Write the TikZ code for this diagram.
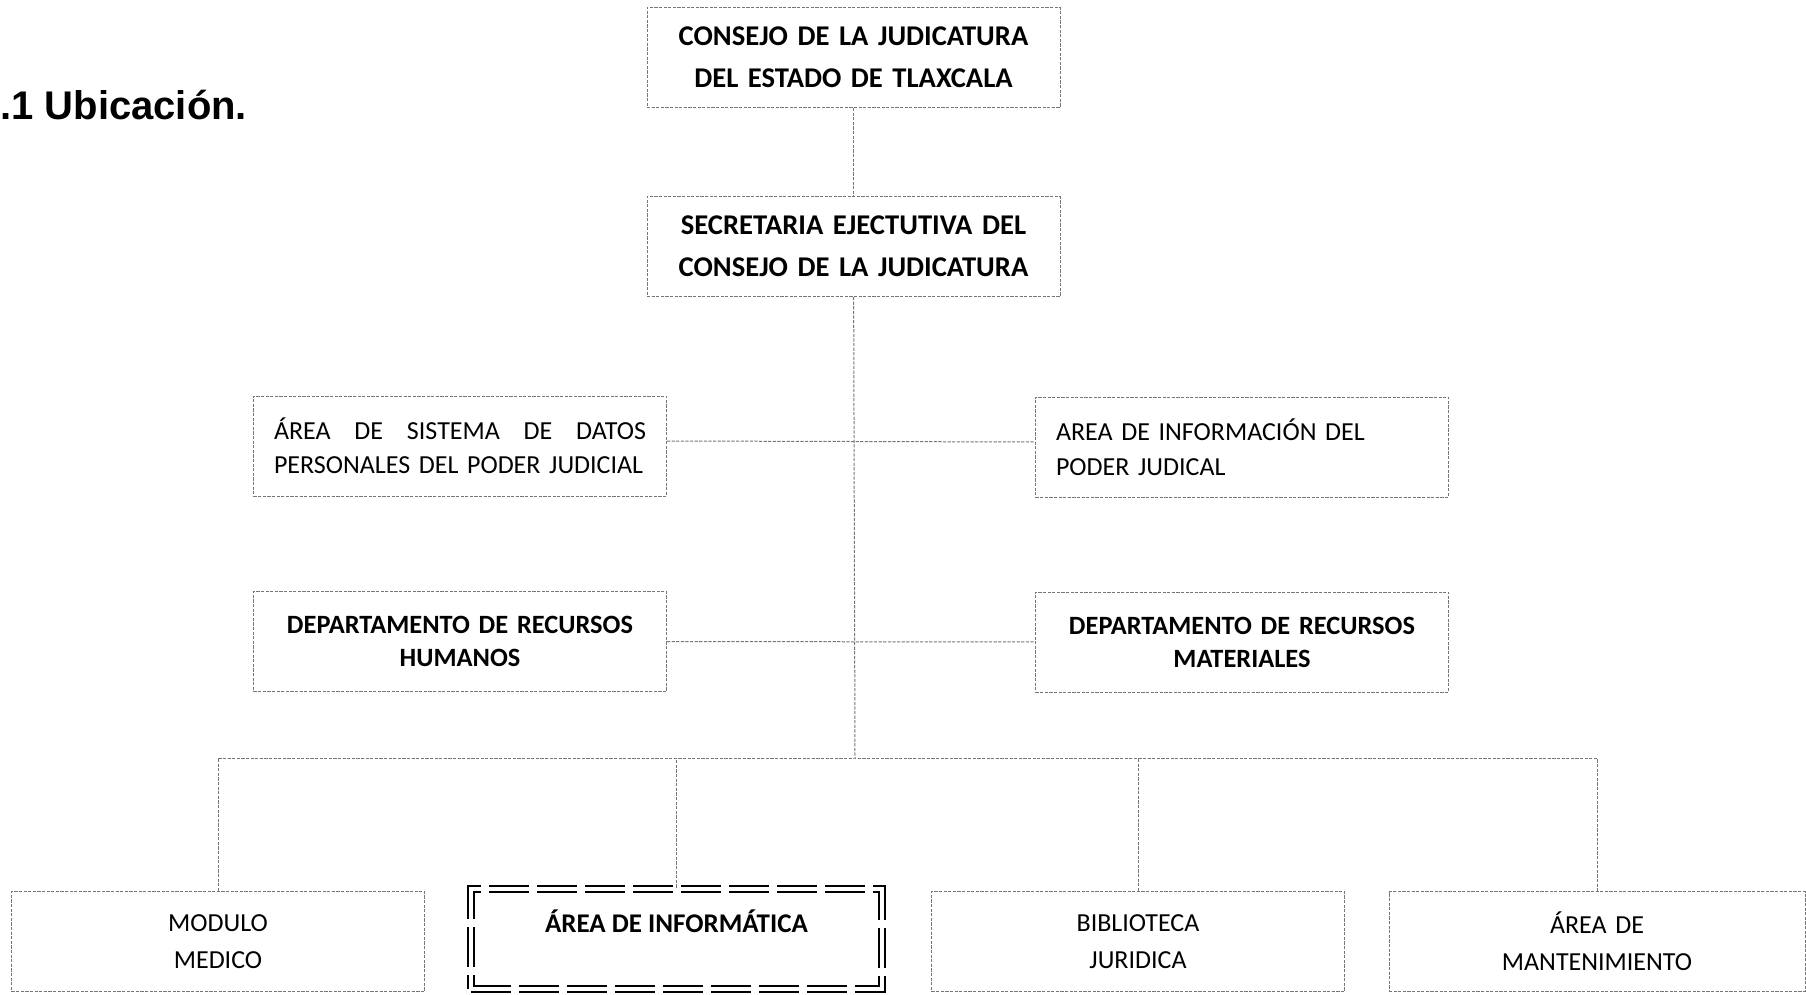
\documentclass[tikz,border=0pt]{standalone}
\usepackage{fontspec}
\setmainfont{Carlito}
\newfontfamily\arialfont{Liberation Sans}
\usepackage{tikz}
\usetikzlibrary{positioning}
\definecolor{lineagris}{RGB}{118,118,118}

\tikzset{
  caja/.style={draw=lineagris, dash pattern=on 1.6pt off 0.7pt, line width=0.5pt,
    minimum width=206.5pt, minimum height=50pt, inner sep=0pt,
    text width=200pt, align=center, font=\fontsize{13}{18.5}\selectfont},
  negrita/.style={font=\fontsize{14.3}{21}\selectfont\bfseries},
  enlace/.style={draw=lineagris, dash pattern=on 1.6pt off 0.7pt, line width=0.5pt},
}

\begin{document}
\begin{tikzpicture}[x=0.5pt, y=-0.5pt]
\useasboundingbox (0,0) rectangle (1806,995);

\node [anchor=base west, inner sep=0pt,
       font=\arialfont\bfseries\fontsize{20}{24}\selectfont] (titulo) at (0,120) {.1 Ubicación.};
%
\node [caja, negrita] (consejo) at (853.5,57.5) {CONSEJO DE LA JUDICATURA\\DEL ESTADO DE TLAXCALA};
\node [caja, negrita] (secretaria) at (853.5,246.5) {SECRETARIA EJECTUTIVA DEL\\CONSEJO DE LA JUDICATURA};

\node [caja, text width=186pt, align=left, font=\fontsize{13}{17}\selectfont] (sistema) at (460,446)
  {\makebox[186pt]{ÁREA\hfill DE\hfill SISTEMA\hfill DE\hfill DATOS}\\PERSONALES DEL PODER JUDICIAL};
\node [caja, text width=186pt, align=left, font=\fontsize{13}{17.5}\selectfont] (info) at (1242,447)
  {AREA DE INFORMACIÓN DEL\\PODER JUDICAL};

\node [caja, font=\fontsize{13.2}{16.5}\selectfont\bfseries] (rh) at (460,641.5) {DEPARTAMENTO DE RECURSOS\\HUMANOS};
\node [caja, font=\fontsize{13.2}{16.5}\selectfont\bfseries] (rm) at (1242,642) {DEPARTAMENTO DE RECURSOS\\MATERIALES};

\node [caja] (modulo) at (218,941.5) {MODULO\\MEDICO};
\node [draw=black, line width=1.4pt, double, double distance=1.6pt,
       dash pattern=on 20pt off 4pt, minimum width=205.5pt, minimum height=50pt,
       inner sep=0pt, text height=9.5pt, text depth=16.5pt,
       font=\fontsize{13.5}{17}\selectfont\bfseries] (informatica) at (676.5,939) {ÁREA DE INFORMÁTICA};
\node [caja] (biblioteca) at (1138,941.5) {BIBLIOTECA\\JURIDICA};
\node [caja, minimum width=208pt] (mantenimiento) at (1597,941.5) {ÁREA DE\\MANTENIMIENTO};

\coordinate (bus) at (855,758);

\draw [enlace] (consejo) -- (secretaria);
\draw [enlace] (secretaria) -- (bus);
\draw [enlace] ([yshift=2.5pt]sistema.east) -- ([yshift=2.5pt]info.west);
\draw [enlace] (rh) -- (rm);
\draw [enlace] (modulo.north) |- (bus) -| (mantenimiento.north);
\draw [enlace] (informatica.north) -- (informatica.north |- bus);
\draw [enlace] (biblioteca.north) -- (biblioteca.north |- bus);
%
\end{tikzpicture}
\end{document}
